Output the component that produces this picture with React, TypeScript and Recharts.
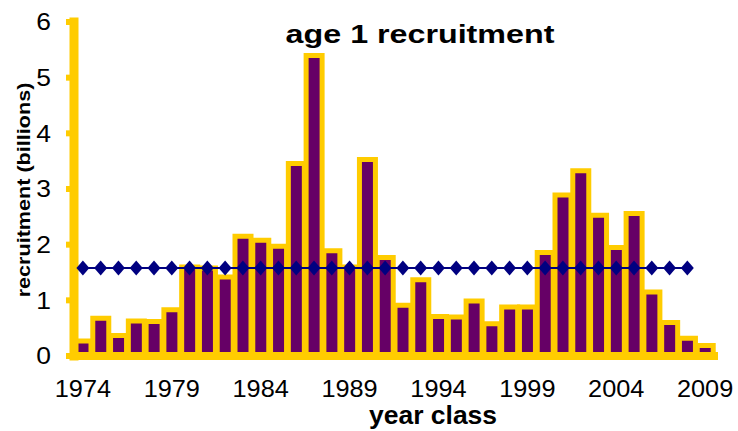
import React from "react";
import {
  Bar,
  ComposedChart,
  Label,
  Line,
  XAxis,
  YAxis,
} from "recharts";

// year classes 1974..2009
const YEARS = [
  1974, 1975, 1976, 1977, 1978, 1979, 1980, 1981, 1982, 1983, 1984, 1985,
  1986, 1987, 1988, 1989, 1990, 1991, 1992, 1993, 1994, 1995, 1996, 1997,
  1998, 1999, 2000, 2001, 2002, 2003, 2004, 2005, 2006, 2007, 2008, 2009,
];

// age 1 recruitment, billions
const RECRUITMENT = [
  0.27, 0.68, 0.37, 0.63, 0.62, 0.83, 1.6, 1.58, 1.42, 2.15, 2.08, 1.97,
  3.46, 5.4, 1.89, 1.6, 3.53, 1.77, 0.91, 1.37, 0.71, 0.7, 0.99, 0.58,
  0.88, 0.88, 1.86, 2.89, 3.33, 2.53, 1.95, 2.56, 1.15, 0.6, 0.32, 0.19,
];

// long-term mean, drawn 1974..2008
const MEAN_VALUE = 1.58;
const MEAN_LAST_YEAR = 2008;

const Y_TICKS = [0, 1, 2, 3, 4, 5, 6];

const GOLD = "#FFCC00";
const PURPLE = "#660066";
const NAVY = "#000080";
const FONT = "'Liberation Sans', Arial, sans-serif";

const data = YEARS.map((year, i) => ({
  year,
  value: RECRUITMENT[i],
  mean: year <= MEAN_LAST_YEAR ? MEAN_VALUE : undefined,
}));

// category boundaries for the gold tick marks under the x axis
const BOUNDARIES = Array.from({ length: YEARS.length + 1 }, (_, i) => i);

function YTick({ x, y, payload }: any) {
  return (
    <text
      transform={`translate(${x},${y}) scale(1.15,1)`}
      dy="0.36em"
      textAnchor="end"
      fontFamily={FONT}
      fontSize={23}
      fill="#000"
    >
      {payload.value}
    </text>
  );
}

function XTick({ x, y, payload }: any) {
  return (
    <text
      transform={`translate(${x},${y}) scale(1.1,1)`}
      dy={33}
      textAnchor="middle"
      fontFamily={FONT}
      fontSize={23}
      fill="#000"
    >
      {payload.value}
    </text>
  );
}

function Diamond({ cx, cy }: any) {
  if (cx == null || cy == null) return null;
  return (
    <polygon
      points={`${cx},${cy - 7.5} ${cx + 6.5},${cy} ${cx},${cy + 7.5} ${cx - 6.5},${cy}`}
      fill={NAVY}
    />
  );
}

export default function App() {
  return (
    <div
      style={{
        position: "absolute",
        left: 0,
        top: 0,
        width: 738,
        height: 431,
        background: "#fff",
      }}
    >
      <div
        style={{
          position: "absolute",
          left: 420,
          top: 21,
          transform: "translateX(-50%) scaleX(1.24)",
          fontFamily: FONT,
          fontWeight: "bold",
          fontSize: 26,
          lineHeight: 1,
          whiteSpace: "nowrap",
          color: "#000",
        }}
      >
        age 1 recruitment
      </div>
      <ComposedChart
        width={738}
        height={431}
        data={data}
        margin={{ top: 22, right: 24, left: 0, bottom: 0 }}
      >
        <XAxis
          xAxisId="edge"
          type="number"
          domain={[0, YEARS.length]}
          ticks={BOUNDARIES}
          tick={false}
          height={8}
          tickSize={8}
          axisLine={{ stroke: GOLD, strokeWidth: 8, strokeLinecap: "square" }}
          tickLine={{ stroke: GOLD, strokeWidth: 6 }}
        />
        <XAxis
          xAxisId="label"
          dataKey="year"
          height={67}
          interval={4}
          axisLine={false}
          tickLine={false}
          tickSize={0}
          tickMargin={0}
          tick={<XTick />}
        >
          <Label
            content={() => (
              <text
                transform="translate(433,424) scale(1.06,1)"
                textAnchor="middle"
                fontFamily={FONT}
                fontWeight="bold"
                fontSize={25}
                fill="#000"
              >
                year class
              </text>
            )}
          />
        </XAxis>
        <YAxis
          yAxisId="main"
          domain={[0, 6]}
          ticks={Y_TICKS}
          width={74}
          tickSize={8}
          tickMargin={15}
          tick={<YTick />}
          axisLine={{ stroke: GOLD, strokeWidth: 9, strokeLinecap: "square" }}
          tickLine={{ stroke: GOLD, strokeWidth: 6 }}
        >
          <Label
            content={() => (
              <text
                transform="translate(29.5,190) rotate(-90) scale(1.2,1)"
                textAnchor="middle"
                fontFamily={FONT}
                fontWeight="bold"
                fontSize={18}
                fill="#000"
              >
                recruitment (billions)
              </text>
            )}
          />
        </YAxis>
        <YAxis
          yAxisId="inner"
          mirror
          domain={[0, 6]}
          ticks={Y_TICKS}
          tick={false}
          tickSize={8}
          axisLine={false}
          tickLine={{ stroke: GOLD, strokeWidth: 6 }}
        />
        <Bar
          xAxisId="label"
          yAxisId="main"
          dataKey="value"
          fill={PURPLE}
          stroke={GOLD}
          strokeWidth={5}
          barSize={16}
          isAnimationActive={false}
        />
        <Line
          xAxisId="label"
          yAxisId="main"
          dataKey="mean"
          type="linear"
          stroke={NAVY}
          strokeWidth={2}
          dot={<Diamond />}
          activeDot={false}
          connectNulls={false}
          isAnimationActive={false}
        />
      </ComposedChart>
    </div>
  );
}
